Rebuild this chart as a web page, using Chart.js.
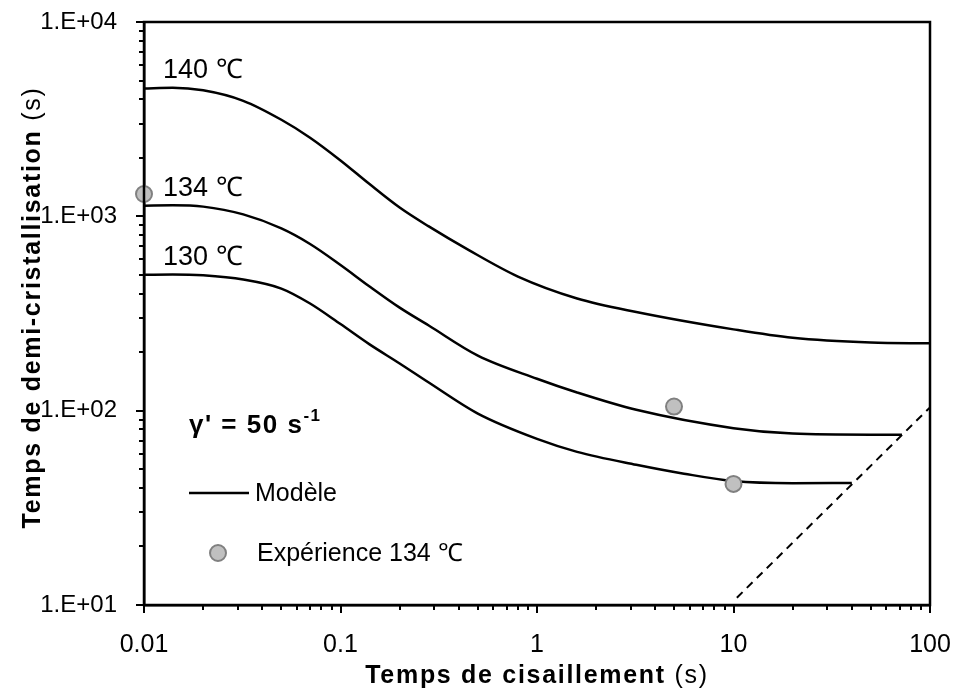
<!DOCTYPE html>
<html>
<head>
<meta charset="utf-8">
<script src="https://cdn.jsdelivr.net/npm/chart.js@4.4.1/dist/chart.umd.min.js"></script>
<style>
  html, body { margin: 0; padding: 0; background: #fff; }
  #wrap { width: 955px; height: 691px; }
</style>
</head>
<body>
<div id="wrap"><canvas id="chart" width="955" height="691"></canvas></div>
<script>
var FONT = '"Liberation Sans", Arial, sans-serif';

// tick labels
var xTickValues = [0.01, 0.1, 1, 10, 100];
var xTickLabels = ['0.01', '0.1', '1', '10', '100'];
var yTickValues = [10, 100, 1000, 10000];
var yTickLabels = ['1.E+01', '1.E+02', '1.E+03', '1.E+04'];

// model curves (shear time s -> half-crystallisation time s)
var shear140 = [0.01, 0.014, 0.02, 0.032, 0.05, 0.07, 0.1, 0.14, 0.2, 0.28, 0.45, 0.8, 1.6, 3.2, 10, 20, 50, 100];
var time140  = [4550, 4590, 4450, 3930, 3140, 2540, 1940, 1470, 1110, 890, 670, 490, 378, 322, 262, 237, 224, 222];
var shear134 = [0.01, 0.014, 0.02, 0.032, 0.05, 0.07, 0.1, 0.14, 0.2, 0.28, 0.5, 1, 1.6, 3.2, 10, 20, 50, 72];
var time134  = [1135, 1140, 1122, 1023, 867, 721, 562, 437, 339, 275, 192, 146, 124, 101, 81.3, 76.2, 75.2, 75.2];
var shear130 = [0.01, 0.014, 0.02, 0.032, 0.05, 0.07, 0.1, 0.14, 0.2, 0.28, 0.5, 1, 1.6, 3.2, 5.6, 10, 20, 40];
var time130  = [500, 502, 497, 473, 425, 356, 279, 220, 175, 140, 96.6, 71.6, 61.4, 52.7, 47.4, 43.4, 42.3, 42.5];

// experiments at 134 C
var expShear = [0.01, 4.98, 10];
var expTime  = [1303, 105, 42];

// dashed limit line
var limitShear = [10.4, 100];
var limitTime  = [10.9, 104];

var curveLabels = ['140 \u2103', '134 \u2103', '130 \u2103'];

function zip(xs, ys) {
  return xs.map(function (x, i) { return { x: x, y: ys[i] }; });
}

function logTicks(min, max) {
  var out = [];
  for (var e = Math.floor(Math.log10(min)); e <= Math.ceil(Math.log10(max)); e++) {
    for (var m = 1; m <= 9; m++) {
      var v = Number((m * Math.pow(10, e)).toPrecision(6));
      if (v >= min && v <= max) out.push({ value: v, major: m === 1 });
    }
  }
  return out;
}

function mixedText(ctx, parts, x, y) {
  // parts: [[text, font], ...] drawn centred on x
  var total = 0;
  parts.forEach(function (p) { ctx.font = p[1]; total += ctx.measureText(p[0]).width; });
  var cx = x - total / 2;
  parts.forEach(function (p) {
    ctx.font = p[1];
    ctx.fillText(p[0], cx, y);
    cx += ctx.measureText(p[0]).width;
  });
}

var overlay = {
  id: 'overlay',
  afterDatasetsDraw: function (chart) {
    var ctx = chart.ctx, a = chart.chartArea;
    var xs = chart.scales.x, ys = chart.scales.y;
    ctx.save();
    ctx.fillStyle = '#000';
    ctx.strokeStyle = '#000';

    // outward tick marks
    ctx.lineWidth = 2;
    ctx.beginPath();
    xs.ticks.forEach(function (t) {
      var px = Math.round(xs.getPixelForValue(t.value));
      ctx.moveTo(px, a.bottom);
      ctx.lineTo(px, a.bottom + (t.major ? 8 : 5));
    });
    ys.ticks.forEach(function (t) {
      var py = Math.round(ys.getPixelForValue(t.value));
      ctx.moveTo(a.left, py);
      ctx.lineTo(a.left - (t.major ? 8 : 5), py);
    });
    ctx.stroke();

    // curve labels, just above the start of each curve
    ctx.font = '27px ' + FONT;
    ctx.textBaseline = 'alphabetic';
    ctx.textAlign = 'left';
    [time140, time134, time130].forEach(function (t, i) {
      ctx.fillText(curveLabels[i], a.left + 19, ys.getPixelForValue(t[0]) - 10);
    });

    // shear rate
    ctx.letterSpacing = '1.5px';
    ctx.font = 'bold 26px ' + FONT;
    var gx = a.left + 45, gy = a.top + 411;
    ctx.fillText("\u03b3' = 50 s", gx, gy);
    var w = ctx.measureText("\u03b3' = 50 s").width;
    ctx.font = 'bold 17px ' + FONT;
    ctx.fillText('-1', gx + w, gy - 12);
    ctx.letterSpacing = '0px';

    // legend
    ctx.lineWidth = 2.5;
    ctx.beginPath();
    ctx.moveTo(a.left + 45, a.top + 471);
    ctx.lineTo(a.left + 105, a.top + 471);
    ctx.stroke();
    ctx.font = '25px ' + FONT;
    ctx.textBaseline = 'middle';
    ctx.fillText('Mod\u00e8le', a.left + 111, a.top + 472);
    ctx.beginPath();
    ctx.arc(a.left + 74, a.top + 531, 8, 0, Math.PI * 2);
    ctx.fillStyle = '#c0c0c0';
    ctx.fill();
    ctx.lineWidth = 2;
    ctx.strokeStyle = '#808080';
    ctx.stroke();
    ctx.fillStyle = '#000';
    ctx.fillText('Exp\u00e9rience 134 \u2103', a.left + 113, a.top + 532);

    // axis titles (bold name + regular unit)
    ctx.textBaseline = 'alphabetic';
    ctx.letterSpacing = '1.7px';
    mixedText(ctx, [['Temps de cisaillement ', 'bold 25px ' + FONT], ['(s)', '25px ' + FONT]],
      (a.left + a.right) / 2, 683);
    ctx.save();
    ctx.translate(40, (a.top + a.bottom) / 2 - 6);
    ctx.rotate(-Math.PI / 2);
    mixedText(ctx, [['Temps de demi-cristallisation ', 'bold 25px ' + FONT], ['(s)', '25px ' + FONT]], 0, 0);
    ctx.restore();
    ctx.letterSpacing = '0px';

    // frame
    ctx.lineWidth = 2.5;
    ctx.strokeStyle = '#000';
    ctx.strokeRect(a.left, a.top, a.right - a.left, a.bottom - a.top);
    ctx.restore();
  }
};

var modelStyle = {
  type: 'line',
  borderColor: '#000',
  borderWidth: 2.5,
  pointRadius: 0,
  fill: false,
  cubicInterpolationMode: 'monotone'
};

new Chart(document.getElementById('chart').getContext('2d'), {
  data: {
    datasets: [
      {
        type: 'scatter',
        label: 'Exp\u00e9rience 134 \u2103',
        data: zip(expShear, expTime),
        pointRadius: 8,
        pointBackgroundColor: '#c0c0c0',
        pointBorderColor: '#808080',
        pointBorderWidth: 2,
        clip: false
      },
      Object.assign({ label: '140', data: zip(shear140, time140) }, modelStyle),
      Object.assign({ label: '134', data: zip(shear134, time134) }, modelStyle),
      Object.assign({ label: '130', data: zip(shear130, time130) }, modelStyle),
      {
        type: 'line',
        label: 'limit',
        data: zip(limitShear, limitTime),
        borderColor: '#000',
        borderWidth: 2,
        borderDash: [8, 6],
        pointRadius: 0,
        fill: false
      }
    ]
  },
  options: {
    responsive: false,
    animation: false,
    layout: { padding: { top: 22, right: 25, left: 0, bottom: 0 } },
    plugins: {
      legend: { display: false },
      tooltip: { enabled: false }
    },
    scales: {
      x: {
        type: 'logarithmic',
        min: 0.01,
        max: 100,
        afterBuildTicks: function (scale) { scale.ticks = logTicks(0.01, 100); },
        afterFit: function (scale) {
          scale.height = 86;
          scale.paddingLeft = 0;
          scale.paddingRight = 0;
        },
        grid: { display: false },
        border: { display: true, color: '#000', width: 2.5 },
        ticks: {
          autoSkip: false,
          maxRotation: 0,
          padding: 17,
          color: '#000',
          font: { family: FONT, size: 25 },
          callback: function (value) {
            var i = xTickValues.indexOf(value);
            return i >= 0 ? xTickLabels[i] : '';
          }
        }
      },
      y: {
        type: 'logarithmic',
        min: 10,
        max: 10000,
        afterBuildTicks: function (scale) { scale.ticks = logTicks(10, 10000); },
        afterFit: function (scale) {
          scale.width = 144;
          scale.paddingTop = 0;
          scale.paddingBottom = 0;
        },
        grid: { display: false },
        border: { display: true, color: '#000', width: 2.5 },
        ticks: {
          autoSkip: false,
          padding: 19,
          color: '#000',
          font: { family: FONT, size: 24 },
          callback: function (value) {
            var i = yTickValues.indexOf(value);
            return i >= 0 ? yTickLabels[i] : '';
          }
        }
      }
    }
  },
  plugins: [overlay]
});
</script>
</body>
</html>
